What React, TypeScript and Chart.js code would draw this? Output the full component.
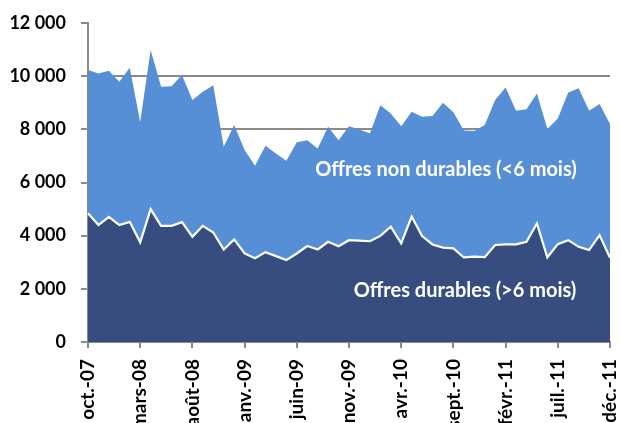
import React, { useEffect, useRef } from "react";
import { Chart, registerables } from "chart.js";

Chart.register(...registerables);

const months: string[] = [
  "oct.-07", "nov.-07", "déc.-07",
  "janv.-08", "févr.-08", "mars-08", "avr.-08", "mai-08", "juin-08", "juil.-08", "août-08", "sept.-08", "oct.-08", "nov.-08", "déc.-08",
  "janv.-09", "févr.-09", "mars-09", "avr.-09", "mai-09", "juin-09", "juil.-09", "août-09", "sept.-09", "oct.-09", "nov.-09", "déc.-09",
  "janv.-10", "févr.-10", "mars-10", "avr.-10", "mai-10", "juin-10", "juil.-10", "août-10", "sept.-10", "oct.-10", "nov.-10", "déc.-10",
  "janv.-11", "févr.-11", "mars-11", "avr.-11", "mai-11", "juin-11", "juil.-11", "août-11", "sept.-11", "oct.-11", "nov.-11", "déc.-11",
];

// Offres durables (>6 mois)
const durables: number[] = [
  4840, 4400, 4710, 4400, 4520, 3750, 5000, 4370, 4370, 4510,
  3960, 4370, 4120, 3480, 3860, 3330, 3150, 3380, 3230, 3080,
  3330, 3610, 3480, 3770, 3600, 3830, 3810, 3790, 3990, 4340,
  3710, 4720, 3985, 3670, 3550, 3520, 3180, 3210, 3190, 3650,
  3670, 3670, 3770, 4460, 3180, 3680, 3830, 3580, 3460, 4020,
  3170,
];

// Total des offres (durables + non durables)
const totals: number[] = [
  10230, 10100, 10200, 9790, 10320, 8280, 10980, 9600, 9620, 10040,
  9100, 9410, 9660, 7345, 8160, 7220, 6630, 7380, 7090, 6820,
  7510, 7590, 7280, 8100, 7590, 8120, 7995, 7845, 8910, 8600,
  8120, 8660, 8470, 8500, 9000, 8640, 7960, 7940, 8160, 9100,
  9575, 8700, 8760, 9350, 8010, 8410, 9390, 9550, 8700, 8950,
  8200,
];

const nonDurables: number[] = totals.map((t, i) => t - durables[i]);

const yTicks: number[] = [0, 2000, 4000, 6000, 8000, 10000, 12000];

const labelNonDurables = "Offres non durables (<6 mois)";
const labelDurables = "Offres durables (>6 mois)";

const DARK = "#374d7f";
const LIGHT = "#568fd5";
const GRAY = "#8a8a8a";

const fmt = (v: number) => String(v).replace(/\B(?=(\d{3})+(?!\d))/g, " ");

const textPlugin = {
  id: "areaLabels",
  afterDatasetsDraw(chart: any) {
    const { ctx } = chart;
    ctx.save();
    ctx.fillStyle = "#ffffff";
    ctx.font = "bold 20px Lato";
    ctx.textAlign = "center";
    ctx.textBaseline = "alphabetic";
    ctx.fillText(labelNonDurables, 446, 176);
    ctx.fillText(labelDurables, 465, 297);
    ctx.restore();
  },
};

export default function App() {
  const ref = useRef<HTMLCanvasElement | null>(null);

  useEffect(() => {
    if (!ref.current) return;
    const chart = new Chart(ref.current, {
      type: "line",
      data: {
        labels: months,
        datasets: [
          {
            label: labelDurables,
            data: durables,
            stack: "s",
            fill: "origin",
            backgroundColor: DARK,
            borderColor: "#ffffff",
            borderWidth: 2.2,
            pointRadius: 0,
            tension: 0,
          },
          {
            label: labelNonDurables,
            data: nonDurables,
            stack: "s",
            fill: "-1",
            backgroundColor: LIGHT,
            borderColor: LIGHT,
            borderWidth: 0,
            pointRadius: 0,
            tension: 0,
          },
        ],
      },
      options: {
        animation: false,
        responsive: true,
        maintainAspectRatio: false,
        layout: { padding: { top: 23, right: 10, bottom: 0, left: 0 } },
        plugins: {
          legend: { display: false },
          tooltip: { enabled: false },
        },
        scales: {
          x: {
            type: "category",
            offset: false,
            border: { display: true, color: GRAY, width: 2 },
            grid: {
              drawOnChartArea: false,
              drawTicks: true,
              tickLength: 6,
              color: GRAY,
              lineWidth: 2,
            },
            ticks: {
              autoSkip: false,
              maxRotation: 90,
              minRotation: 90,
              padding: 11,
              color: "#000000",
              font: { family: "Lato", size: 19, weight: "bold" },
            },
            afterBuildTicks: (axis: any) => {
              axis.ticks = axis.ticks.filter((t: any) => t.value % 5 === 0);
            },
            afterFit: (scale: any) => {
              scale.height = 81;
              scale.paddingLeft = 0;
              scale.paddingRight = 0;
            },
          },
          y: {
            stacked: true,
            min: 0,
            max: 12000,
            border: { display: true, color: GRAY, width: 2 },
            grid: {
              drawTicks: true,
              tickLength: 7,
              lineWidth: 2,
              tickColor: GRAY,
              color: (c: any) => (c.tick && c.tick.value === 12000 ? "rgba(0,0,0,0)" : GRAY),
            },
            ticks: {
              stepSize: 2000,
              padding: 15,
              color: "#000000",
              font: { family: "Lato", size: 18, weight: "bold" },
              callback: (v: any) => fmt(Number(v)),
            },
            afterBuildTicks: (axis: any) => {
              axis.ticks = yTicks.map((v) => ({ value: v }));
            },
            afterFit: (scale: any) => {
              scale.width = 88;
              scale.paddingTop = 0;
              scale.paddingBottom = 0;
            },
          },
        },
      },
      plugins: [textPlugin],
    });
    return () => chart.destroy();
  }, []);

  return (
    <div style={{ position: "fixed", left: 0, top: 0, width: 620, height: 423, background: "#ffffff" }}>
      <canvas ref={ref} />
    </div>
  );
}
